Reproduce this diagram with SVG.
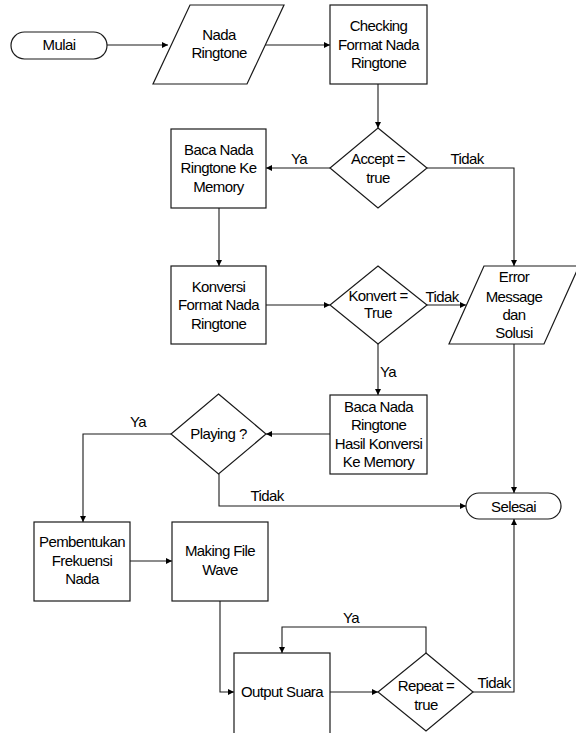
<svg xmlns="http://www.w3.org/2000/svg" width="576" height="733" viewBox="0 0 576 733">
<style>
.s{fill:#fff;stroke:#1a1a1a;stroke-width:1.2}
.c{fill:none;stroke:#1a1a1a;stroke-width:1.1}
text{font-family:"Liberation Sans",Arial,sans-serif;font-size:15px;letter-spacing:-0.6px;fill:#000;text-anchor:middle}
</style>
<defs>
<marker id="ah" viewBox="0 0 6 6" refX="6" refY="3" markerWidth="6" markerHeight="6" markerUnits="userSpaceOnUse" orient="auto">
<path d="M0,0 L6,3 L0,6 z" fill="#000"/>
</marker>
</defs>
<rect width="576" height="733" fill="#fff"/>
<g id="connectors" class="c">
<path class="c" d="M107,45 L168,45" marker-end="url(#ah)"/>
<path class="c" d="M265,45 L330,45" marker-end="url(#ah)"/>
<path class="c" d="M378,84 L378,128" marker-end="url(#ah)"/>
<path class="c" d="M330,168 L266,168" marker-end="url(#ah)"/>
<path class="c" d="M427,168 L514,168 L514,266" marker-end="url(#ah)"/>
<path class="c" d="M219,208 L219,266" marker-end="url(#ah)"/>
<path class="c" d="M266,305 L330,305" marker-end="url(#ah)"/>
<path class="c" d="M426,305 L466,305" marker-end="url(#ah)"/>
<path class="c" d="M378,344 L378,395" marker-end="url(#ah)"/>
<path class="c" d="M330,434 L266,434" marker-end="url(#ah)"/>
<path class="c" d="M171,434 L83,434 L83,522" marker-end="url(#ah)"/>
<path class="c" d="M219,474 L219,506 L466,506" marker-end="url(#ah)"/>
<path class="c" d="M514,344 L514,493" marker-end="url(#ah)"/>
<path class="c" d="M130,561 L172,561" marker-end="url(#ah)"/>
<path class="c" d="M220,601 L220,692 L234,692" marker-end="url(#ah)"/>
<path class="c" d="M330,692 L378,692" marker-end="url(#ah)"/>
<path class="c" d="M426,653 L426,627 L282,627 L282,653" marker-end="url(#ah)"/>
<path class="c" d="M473,692 L514,692 L514,519" marker-end="url(#ah)"/>
</g>
<g id="edge-labels">
<text x="299" y="164">Ya</text>
<text x="467" y="164">Tidak</text>
<text x="442" y="302">Tidak</text>
<text x="388" y="377">Ya</text>
<text x="138" y="427">Ya</text>
<text x="267" y="501">Tidak</text>
<text x="351" y="623">Ya</text>
<text x="494" y="688">Tidak</text>
</g>
<g id="mulai">
<rect class="s" x="11" y="32" width="96" height="27" rx="13.5"/>
<text x="59" y="50">Mulai</text>
</g>
<g id="nada-ringtone">
<polygon class="s" points="190,5 284,5 247,84 153,84"/>
<text x="219" y="40">Nada</text>
<text x="219" y="58">Ringtone</text>
</g>
<g id="checking">
<rect class="s" x="330" y="5" width="97" height="79"/>
<text x="378.5" y="31">Checking</text>
<text x="378.5" y="50">Format Nada</text>
<text x="378.5" y="68">Ringtone</text>
</g>
<g id="accept">
<polygon class="s" points="378,128 427,168 378,208 330,168"/>
<text x="378" y="164">Accept =</text>
<text x="378" y="183">true</text>
</g>
<g id="baca-nada">
<rect class="s" x="171" y="129" width="95" height="79"/>
<text x="218.5" y="155">Baca Nada</text>
<text x="218.5" y="173">Ringtone Ke</text>
<text x="218.5" y="192">Memory</text>
</g>
<g id="konversi">
<rect class="s" x="171" y="266" width="95" height="78"/>
<text x="218.5" y="292">Konversi</text>
<text x="218.5" y="310">Format Nada</text>
<text x="218.5" y="329">Ringtone</text>
</g>
<g id="konvert">
<polygon class="s" points="378,266 427,305 378,344 330,305"/>
<text x="378" y="301">Konvert =</text>
<text x="378" y="318">True</text>
</g>
<g id="error">
<polygon class="s" points="484,266 579,266 544,344 449,344"/>
<text x="514" y="282">Error</text>
<text x="514" y="302">Message</text>
<text x="514" y="320">dan</text>
<text x="514" y="338">Solusi</text>
</g>
<g id="baca-hasil">
<rect class="s" x="330" y="395" width="97" height="79"/>
<text x="378.5" y="412">Baca Nada</text>
<text x="378.5" y="430">Ringtone</text>
<text x="378.5" y="449">Hasil Konversi</text>
<text x="378.5" y="467">Ke Memory</text>
</g>
<g id="playing">
<polygon class="s" points="218.5,394 266,434 218.5,474 171,434"/>
<text x="218.5" y="439">Playing ?</text>
</g>
<g id="selesai">
<rect class="s" x="466" y="493" width="95" height="26" rx="13"/>
<text x="513.5" y="512">Selesai</text>
</g>
<g id="pembentukan">
<rect class="s" x="34" y="522" width="96" height="79"/>
<text x="82" y="547">Pembentukan</text>
<text x="82" y="566">Frekuensi</text>
<text x="82" y="584">Nada</text>
</g>
<g id="making">
<rect class="s" x="172" y="522" width="96" height="79"/>
<text x="220" y="556">Making File</text>
<text x="220" y="575">Wave</text>
</g>
<g id="output">
<rect class="s" x="234" y="653" width="96" height="95"/>
<text x="282" y="697">Output Suara</text>
</g>
<g id="repeat">
<polygon class="s" points="426,653 473,692 426,731 378,692"/>
<text x="426" y="691">Repeat =</text>
<text x="426" y="710">true</text>
</g>
</svg>
